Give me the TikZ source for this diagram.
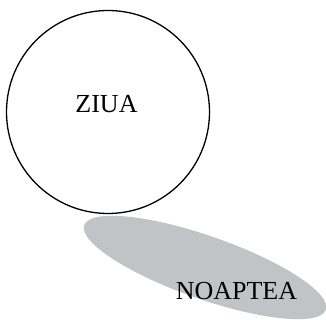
\documentclass[tikz,border=0pt]{standalone}
\usepackage{fontspec}
\setmainfont{Liberation Serif}
\usetikzlibrary{shapes.geometric}
\definecolor{nightgray}{RGB}{194,195,198}
\begin{document}
\begin{tikzpicture}[x=1pt,y=-1pt,
  lbl/.style={font=\fontsize{26}{28}\selectfont, inner sep=0pt, anchor=center},
  daycircle/.style={circle, draw=black, line width=1.3pt, minimum size=203pt, inner sep=0pt},
  nightellipse/.style={ellipse, fill=nightgray, draw=none, minimum width=256pt, minimum height=63pt, inner sep=0pt, rotate=-19.3}]
\useasboundingbox (0,0) rectangle (326,320);
\node[nightellipse] (noaptea) at (205,267.5) {};
\node[daycircle] (ziua) at (108,112) {};
\node[lbl] (tziua) at (106.5,104.5) {ZIUA};
\node[lbl] (tnoaptea) at (236.5,291) {NOAPTEA};
\end{tikzpicture}
\end{document}
